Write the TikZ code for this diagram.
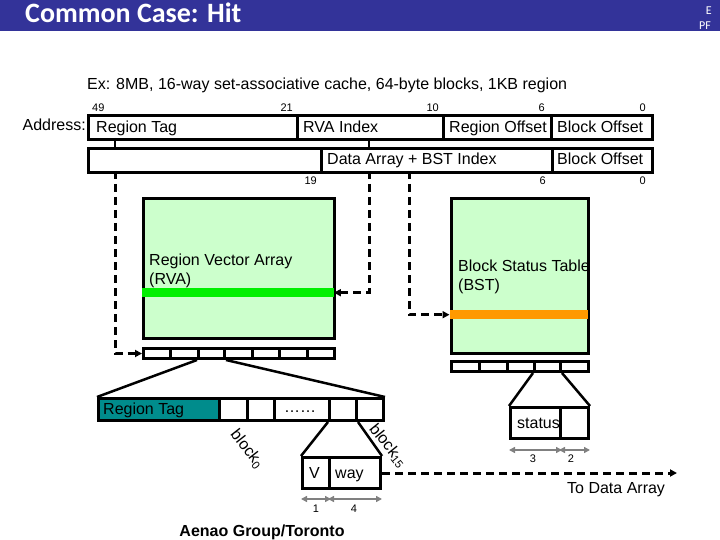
\documentclass[tikz,border=0pt]{standalone}
\usepackage{fontspec}
\setmainfont{Liberation Sans}
\newfontfamily\carlito{Carlito}
\usetikzlibrary{arrows.meta}
\definecolor{titleblue}{RGB}{51,51,153}
\definecolor{lgreen}{RGB}{204,255,204}
\definecolor{bgreen}{RGB}{0,240,0}
\definecolor{borange}{RGB}{255,153,0}
\definecolor{teal2}{RGB}{0,140,140}
\definecolor{dimgray}{RGB}{128,128,128}
\begin{document}
\begin{tikzpicture}[x=1pt,y=-1pt,
  bx/.style={draw=black, line width=3pt, inner sep=0pt, anchor=north west},
  bar/.style={inner sep=0pt, anchor=north west},
  txt/.style={inner sep=0pt, font=\fontsize{16}{19}\selectfont},
  num/.style={inner sep=0pt, font=\fontsize{11}{12}\selectfont},
  link/.style={line width=2.5pt},
  dsh/.style={line width=3pt, dash pattern=on 8pt off 5pt, -{Triangle[length=7pt,width=7pt]}},
  dim/.style={draw=dimgray, line width=2.5pt, {Triangle[length=6pt,width=6pt]}-{Triangle[length=6pt,width=6pt]}}
]
\useasboundingbox (0,0) rectangle (720,540);
% title bar
\fill[titleblue] (0,0) rectangle (720,31);
\node[inner sep=0pt, anchor=base west, text=white, font=\carlito\bfseries\fontsize{28}{32}\selectfont] (title) at (25,23) {Common Case: Hit};
\node[inner sep=0pt, anchor=base east, text=white, font=\carlito\fontsize{12}{13}\selectfont] (e) at (712,15) {E};
\node[inner sep=0pt, anchor=base east, text=white, font=\carlito\fontsize{12}{13}\selectfont] (pf) at (711,30) {PF};

\node[txt, anchor=base west] (ex) at (87,90) {Ex: 8MB, 16-way set-associative cache, 64-byte blocks, 1KB region};

% address rows
\node[bx, minimum width=209pt, minimum height=24pt] (a1) at (87,114) {};
\node[bx, minimum width=146pt, minimum height=24pt] (a2) at (296,114) {};
\node[bx, minimum width=108pt, minimum height=24pt] (a3) at (442,114) {};
\node[bx, minimum width=101pt, minimum height=24pt] (a4) at (550,114) {};
\node[bx, minimum width=233pt, minimum height=24pt] (b1) at (87,147) {};
\node[bx, minimum width=231pt, minimum height=24pt] (b2) at (320,147) {};
\node[bx, minimum width=100pt, minimum height=24pt] (b3) at (551,147) {};

\node[txt, anchor=base east] (addr) at (86,131) {Address:};
\node[txt, anchor=base west] (ta1) at (96,133) {Region Tag};
\node[txt, anchor=base west] (ta2) at (303,133) {RVA Index};
\node[txt, anchor=base west] (ta3) at (449,133) {Region Offset};
\node[txt, anchor=base west] (ta4) at (557,133) {Block Offset};
\node[txt, anchor=base west] (tb2) at (327,165) {Data Array + BST Index};
\node[txt, anchor=base west] (tb3) at (557,165) {Block Offset};

\node[num, anchor=base west] (n49) at (92,112) {49};
\node[num, anchor=base east] (n21) at (293,112) {21};
\node[num, anchor=base east] (n10) at (439,112) {10};
\node[num, anchor=base east] (n6a) at (545,112) {6};
\node[num, anchor=base east] (n0a) at (646,112) {0};
\node[num, anchor=base east] (n19) at (317,185) {19};
\node[num, anchor=base east] (n6b) at (546,185) {6};
\node[num, anchor=base east] (n0b) at (646,185) {0};

% RVA
\node[bx, fill=lgreen, minimum width=191pt, minimum height=140pt] (rva) at (142,197) {};
\node[bar, fill=bgreen, minimum width=192pt, minimum height=9pt] (gbar) at (141.5,288) {};
\node[txt, anchor=base west, align=left] (trva) at (149,284) {Region Vector Array\\[-0.5pt](RVA)};
\foreach \i/\x/\w in {1/142/27, 2/169/28, 3/197/26, 4/223/28, 5/251/27, 6/278/28, 7/306/27}{
  \node[bx, minimum width=\w pt, minimum height=10pt] (r\i) at (\x,347) {};
}
% BST
\node[bx, fill=lgreen, minimum width=137pt, minimum height=155pt] (bst) at (450,197) {};
\node[bar, fill=borange, minimum width=138pt, minimum height=9pt] (obar) at (449.5,310) {};
\node[txt, anchor=base west, align=left] (tbst) at (458,290) {Block Status Table\\[-0.5pt](BST)};
\foreach \i/\x/\w in {1/450/28, 2/478/28, 3/506/27, 4/533/26, 5/559/28}{
  \node[bx, minimum width=\w pt, minimum height=10pt] (s\i) at (\x,360) {};
}

% address links
\coordinate (q1a) at (115,138); \coordinate (q1b) at (115,147); \coordinate (q1c) at (115,171);
\coordinate (q2a) at (369,138); \coordinate (q2b) at (369,147); \coordinate (q2c) at (369,171);
\coordinate (q3c) at (409,171);
\draw[link] (q1a) -- (q1b);
\draw[link] (q2a) -- (q2b);
\draw[dsh] (q1c) |- (r1.west);
\draw[dsh] (q2c) |- (gbar.east);
\draw[dsh] (q3c) |- (obar.west);

% RVA entry
\node[bx, fill=teal2, minimum width=121pt, minimum height=22pt] (rt) at (97,397) {};
\node[bx, minimum width=28pt, minimum height=22pt] (e1) at (218,397) {};
\node[bx, minimum width=27pt, minimum height=22pt] (e2) at (246,397) {};
\node[bx, minimum width=55pt, minimum height=22pt] (e3) at (273,397) {};
\node[bx, minimum width=27pt, minimum height=22pt] (e4) at (328,397) {};
\node[bx, minimum width=27pt, minimum height=22pt] (e5) at (355,397) {};
\node[txt, anchor=base west] (trt) at (103,414) {Region Tag};
\node[txt, anchor=base] (dots) at (300,412) {……};
\draw[link] (r3.south west) -- (rt.north west);
\draw[link] (r3.south east) -- (e5.north east);

\node[txt, rotate=-52] (blk0) at (247,449) {block\textsubscript{0}};
\node[txt, rotate=-51] (blk15) at (388,446) {block\textsubscript{15}};

% V / way
\node[bx, minimum width=27pt, minimum height=31pt] (wv) at (301,456) {};
\node[bx, minimum width=51pt, minimum height=31pt] (wy) at (328,456) {};
\node[txt, anchor=base west] (tv) at (309,478) {V};
\node[txt, anchor=base west] (tw) at (335,478) {way};
\draw[link] (e4.south west) -- (wv.north west);
\draw[link] (e4.south east) -- (wy.north east);
\draw[dim] ([yshift=-9pt]wv.south west) -- ([yshift=-9pt]wv.south east);
\draw[dim] ([yshift=-9pt]wy.south west) -- ([yshift=-9pt]wy.south east);
\node[num, anchor=base] (n1) at (316,512) {1};
\node[num, anchor=base] (n4) at (354,512) {4};

% status
\node[txt, anchor=base west] (tst) at (517,428) {status};
\node[bx, minimum width=50pt, minimum height=31pt] (st) at (509,406) {};
\node[bx, minimum width=28pt, minimum height=31pt] (st2) at (559,406) {};
\draw[link] (s4.south west) -- (st.north west);
\draw[link] (s4.south east) -- (st2.north east);
\draw[dim] ([yshift=-10pt]st.south west) -- ([yshift=-10pt]st.south east);
\draw[dim] ([yshift=-10pt]st2.south west) -- ([yshift=-10pt]st2.south east);
\node[num, anchor=base] (n3) at (533,462) {3};
\node[num, anchor=base] (n2) at (571,462) {2};

% to data array
\coordinate (dataend) at (677,471);
\draw[dsh] (wy.east) -- (wy.east -| dataend);
\node[txt, anchor=base west] (tda) at (567,493) {To Data Array};

\node[txt, anchor=base, font=\bfseries\fontsize{16}{19}\selectfont] (foot) at (262,536) {Aenao Group/Toronto};
\end{tikzpicture}
\end{document}
